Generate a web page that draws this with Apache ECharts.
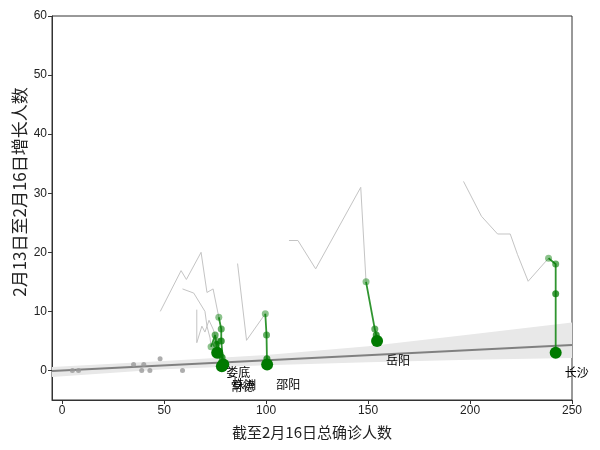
<!DOCTYPE html>
<html>
<head>
<meta charset="utf-8">
<script src="https://cdn.jsdelivr.net/npm/echarts@6/dist/echarts.min.js"></script>
<style>
  html, body { margin: 0; padding: 0; background: #fff; }
  #chart { width: 600px; height: 450px; }
</style>
</head>
<body>
<div id="chart"></div>
<script>
  // ticks
  var xTicks = [0, 50, 100, 150, 200, 250];
  var yTicks = [0, 10, 20, 30, 40, 50, 60];

  // other cities (grey dots)
  var otherX = [5, 8, 35, 39, 40, 43, 48, 59];
  var otherY = [0, 0, 1, 0, 1, 0, 2, 0];

  // regression line + band
  var regX = [-5, 250];
  var regY = [-0.1, 4.3];
  var bandX = [-5, 50, 100, 150, 200, 250];
  var bandLo = [-1.1, 0.2, 0.9, 1.4, 1.8, 2.1];
  var bandHi = [0.6, 1.6, 2.6, 4.1, 6.1, 8.1];

  // city trails: grey = earlier days, green = last days
  var cityNames = ['长沙', '岳阳', '邵阳', '娄底', '株洲', '常德'];
  var changshaGray = [[196.8, 32], [205.6, 26.1], [213.5, 23.1], [219.7, 23.1], [223.3, 19.6], [228.5, 15.1], [238.5, 19]];
  var changshaGreen = [[238.5, 19], [242, 18], [242, 13], [242, 3]];
  var yueyangGray = [[111.2, 22], [115.6, 22], [124.3, 17.2], [146.4, 31], [149, 15]];
  var yueyangGreen = [[149, 15], [153.3, 7], [154, 6], [154.4, 5]];
  var shaoyangGray = [[86, 18.1], [90.4, 5.1], [99.6, 9.6]];
  var shaoyangGreen = [[99.6, 9.6], [100.2, 6], [100.4, 2], [100.5, 1]];
  var loudiGray = [[59, 13.8], [64.5, 13.1], [70, 10], [71, 7.5], [72.5, 5.5], [73, 4]];
  var loudiGreen = [[73, 4], [75, 6], [75.6, 4.4], [76, 3]];
  var zhuzhouGray = [[48.1, 10], [58.3, 16.9], [60.9, 15.4], [68.1, 20], [71, 13.2], [74, 13.8], [76.8, 9]];
  var zhuzhouGreen = [[76.8, 9], [78, 7], [78, 5], [79, 1]];
  var changdeGray = [[66, 10.3], [66, 4.7], [68.5, 7.5], [70, 6.5], [72, 8.5], [74, 7], [76, 5]];
  var changdeGreen = [[76, 5], [77.5, 2.6], [78.4, 2.2], [78.3, 0.7]];

  var grays = [changshaGray, yueyangGray, shaoyangGray, loudiGray, zhuzhouGray, changdeGray];
  var greens = [changshaGreen, yueyangGreen, shaoyangGreen, loudiGreen, zhuzhouGreen, changdeGreen];
  var alphas = [0.45, 0.6, 0.75, 1];

  var cjk = '"Noto Sans CJK SC", sans-serif';

  var series = [];

  series.push({
    type: 'custom',
    silent: true,
    z: 1,
    data: [[0, 0]],
    renderItem: function (params, api) {
      var pts = [];
      for (var i = 0; i < bandX.length; i++) pts.push(api.coord([bandX[i], bandHi[i]]));
      for (var j = bandX.length - 1; j >= 0; j--) pts.push(api.coord([bandX[j], bandLo[j]]));
      return { type: 'polygon', shape: { points: pts }, style: { fill: '#e8e8e8' } };
    }
  });

  series.push({
    type: 'line',
    silent: true,
    z: 2,
    symbol: 'none',
    data: regX.map(function (x, i) { return [x, regY[i]]; }),
    lineStyle: { color: '#808080', width: 2 }
  });

  grays.forEach(function (g) {
    series.push({
      type: 'line',
      silent: true,
      z: 3,
      symbol: 'none',
      data: g,
      lineStyle: { color: '#c4c4c4', width: 1 }
    });
  });

  series.push({
    type: 'scatter',
    z: 4,
    symbolSize: 5,
    data: otherX.map(function (x, i) { return [x, otherY[i]]; }),
    itemStyle: { color: '#999999' }
  });

  greens.forEach(function (g, c) {
    series.push({
      type: 'line',
      z: 5,
      symbol: 'none',
      data: g,
      lineStyle: { color: '#1a8a1a', width: 1.8, opacity: 0.9 }
    });
    series.push({
      type: 'scatter',
      z: 6,
      data: g.map(function (p, i) {
        var last = i === g.length - 1;
        return {
          value: p,
          symbolSize: last ? 12 : 7,
          itemStyle: { color: '#007a00', opacity: alphas[i] },
          label: last ? {
            show: true,
            formatter: cityNames[c],
            position: 'right',
            distance: 3,
            offset: [0, 20],
            color: '#000',
            fontSize: 12,
            fontFamily: cjk
          } : { show: false }
        };
      })
    });
  });

  var chart = echarts.init(document.getElementById('chart'));
  var option = {
    backgroundColor: '#fff',
    animation: false,
    grid: {
      left: 52, right: 28, top: 16, bottom: 50,
      show: true, borderColor: '#333', borderWidth: 1
    },
    xAxis: {
      type: 'value',
      min: -5,
      max: 250,
      name: '截至2月16日总确诊人数',
      nameLocation: 'middle',
      nameGap: 25,
      nameTextStyle: { fontFamily: cjk, fontSize: 15, color: '#222' },
      axisLine: { onZero: false, lineStyle: { color: '#333' } },
      axisTick: { show: true, length: 4, customValues: xTicks, lineStyle: { color: '#333' } },
      axisLabel: { customValues: xTicks, color: '#222', fontSize: 12, fontFamily: 'Liberation Sans', margin: 5 },
      splitLine: { show: false }
    },
    yAxis: {
      type: 'value',
      min: -5,
      max: 60,
      axisLine: { show: true, onZero: false, lineStyle: { color: '#333' } },
      axisTick: { show: true, length: 4, customValues: yTicks, lineStyle: { color: '#333' } },
      axisLabel: { customValues: yTicks, color: '#222', fontSize: 12, fontFamily: 'Liberation Sans', margin: 5 },
      splitLine: { show: false }
    },
    graphic: [{
      type: 'text',
      x: 20,
      y: 192,
      rotation: Math.PI / 2,
      style: {
        text: '2月13日至2月16日增长人数',
        font: '17px "Noto Sans CJK SC"',
        fill: '#222',
        textAlign: 'center',
        textVerticalAlign: 'middle'
      }
    }],
    series: series
  };
  chart.setOption(option);
</script>
</body>
</html>
